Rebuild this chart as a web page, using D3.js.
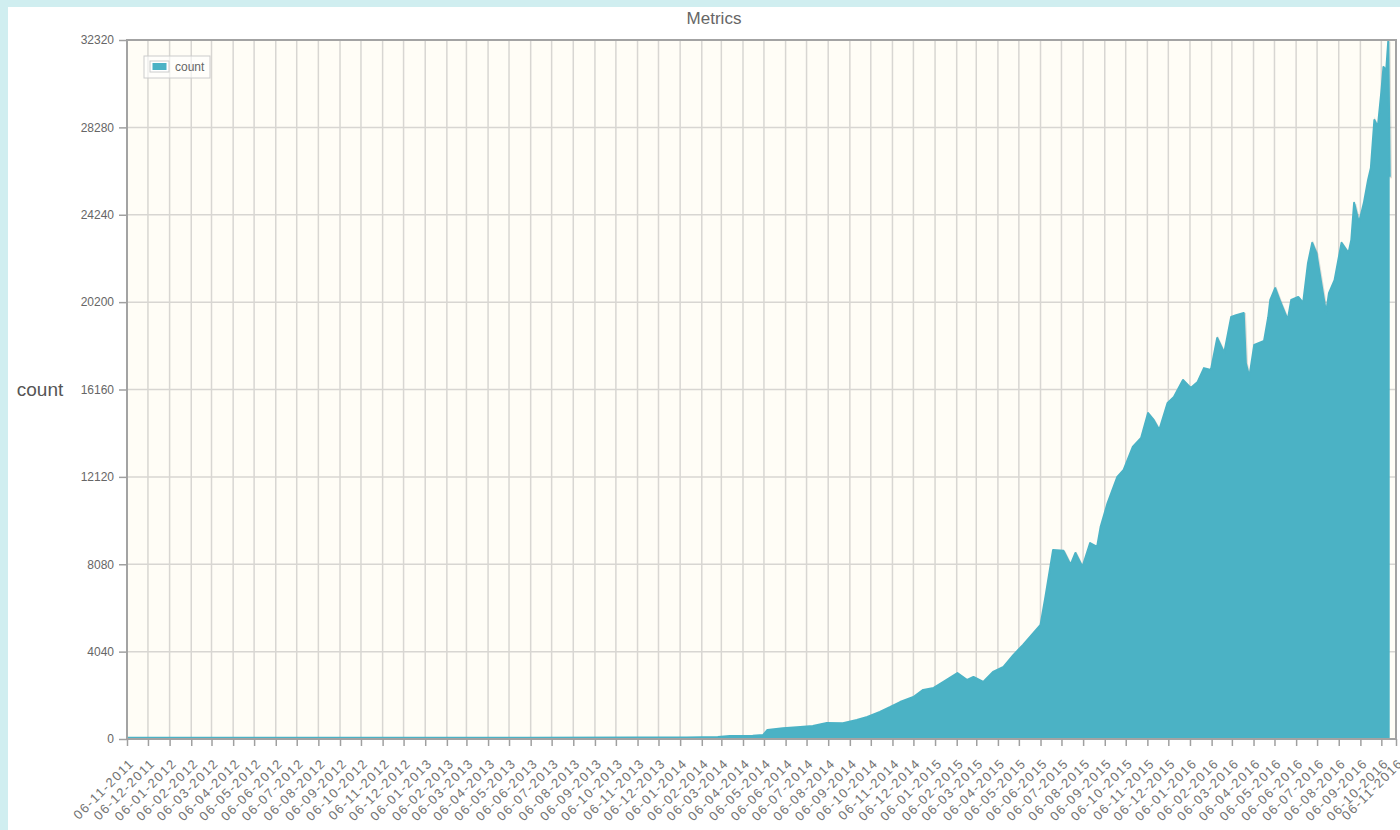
<!DOCTYPE html>
<html>
<head>
<meta charset="utf-8">
<title>Metrics</title>
<script src="https://cdn.jsdelivr.net/npm/d3@7"></script>
<style>
    html, body {
        margin: 0;
        padding: 0;
        background: #d0eef0;
        font-family: "Liberation Sans", Arial, sans-serif;
    }
    #chart-wrapper {
        position: absolute;
        left: 8px;
        top: 7px;
        width: 1392px;
        height: 823px;
        background: #fff;
    }
</style>
</head>
<body>
<div id="chart-wrapper"></div>
<script>
// readings of the count series (date, value)
let dates = [
    "2011-11-06", "2012-03-01", "2012-08-01", "2013-01-01", "2013-06-01", "2013-11-01",
    "2014-01-15", "2014-03-01", "2014-03-18", "2014-04-20", "2014-05-05", "2014-05-11",
    "2014-06-02", "2014-06-27", "2014-07-15", "2014-08-04", "2014-08-27", "2014-09-16",
    "2014-10-01", "2014-10-19", "2014-11-03", "2014-11-17", "2014-12-06", "2014-12-20",
    "2015-01-04", "2015-01-18", "2015-02-07", "2015-02-21", "2015-03-02", "2015-03-16",
    "2015-03-30", "2015-04-14", "2015-04-28", "2015-05-12", "2015-05-27", "2015-06-06",
    "2015-06-13", "2015-06-20", "2015-06-24", "2015-07-09", "2015-07-19", "2015-07-26",
    "2015-08-05", "2015-08-16", "2015-08-26", "2015-08-31", "2015-09-10", "2015-09-24",
    "2015-10-03", "2015-10-16", "2015-10-28", "2015-11-07", "2015-11-15", "2015-11-23",
    "2015-12-05", "2015-12-14", "2015-12-27", "2016-01-07", "2016-01-17", "2016-01-26",
    "2016-02-05", "2016-02-14", "2016-02-24", "2016-03-05", "2016-03-12", "2016-03-23",
    "2016-03-26", "2016-03-31", "2016-04-07", "2016-04-21", "2016-04-27", "2016-04-30",
    "2016-05-07", "2016-05-15", "2016-05-25", "2016-05-30", "2016-06-09", "2016-06-16",
    "2016-06-23", "2016-06-29", "2016-07-05", "2016-07-12", "2016-07-19", "2016-07-23",
    "2016-07-31", "2016-08-10", "2016-08-20", "2016-08-24", "2016-08-28", "2016-09-04",
    "2016-09-11", "2016-09-17", "2016-09-21", "2016-09-26", "2016-10-01", "2016-10-06",
    "2016-10-09", "2016-10-13", "2016-10-16", "2016-10-18"
];

let counts = [
    55, 60, 60, 60, 62, 65,
    70, 90, 140, 150, 185, 420,
    500, 555, 600, 740, 730, 880,
    1020, 1250, 1480, 1710, 1940, 2270,
    2360, 2640, 3050, 2730, 2870, 2640,
    3100, 3330, 3880, 4350, 4900, 5270,
    6570, 7950, 8740, 8700, 8050, 8600,
    7950, 9060, 8880, 9800, 10910, 12120,
    12440, 13500, 13920, 15070, 14750, 14290,
    15540, 15810, 16600, 16230, 16510, 17150,
    17060, 18540, 17850, 19510, 19600, 19700,
    17380, 16740, 18220, 18400, 19500, 20300,
    20850, 20160, 19380, 20300, 20440, 20160,
    22010, 22940, 22470, 21080, 19700, 20620,
    21220, 22940, 22470, 23070, 24790, 23860,
    24790, 25850, 26400, 28620, 28300, 29920,
    31070, 30930, 32320, 26000
];

let yTicks = [0, 4040, 8080, 12120, 16160, 20200, 24240, 28280, 32320];
let xDomain = ["2011-11-06", "2016-10-27"];
let firstTick = "2011-11-06",
    monthTicks = 61;

let seriesName = "count",
    chartTitle = "Metrics";

let parseDate = d3.timeParse("%Y-%m-%d"),
    fmtTick = d3.timeFormat("%d-%m-%Y");

let o = initSvg("#chart-wrapper", 1392, 823);
drawChart(o);

function initSvg(selector, width, height) {
    let obj = {};
    let svg = d3.select(selector).append("svg")
            .attr("width", width)
            .attr("height", height),
        margin = {top: 33, right: 4, bottom: 91, left: 119};

    obj.root = svg;
    obj.svg = svg.append("g").attr("transform", "translate(" + margin.left + "," + margin.top + ")");
    obj.width = width - margin.left - margin.right;
    obj.height = height - margin.top - margin.bottom;
    obj.margin = margin;

    obj.x = d3.scaleTime()
        .domain(xDomain.map(parseDate))
        .range([0, obj.width])
        .clamp(true);

    obj.y = d3.scaleLinear()
        .domain([0, yTicks[yTicks.length - 1]])
        .range([obj.height, 0]);

    return obj;
}

function drawChart(o) {
    let color = "#4bb2c5",
        gridColor = "#d8d6d2",
        textColor = "#666";

    let data = dates.map((d, i) => ({date: parseDate(d), count: counts[i]}));

    let start = parseDate(firstTick),
        xTickVals = d3.range(monthTicks).map(i => d3.timeMonth.offset(start, i));

    // title
    o.root.append("text")
        .attr("x", 706)
        .attr("y", 17)
        .attr("text-anchor", "middle")
        .style("font-size", "17px")
        .style("fill", textColor)
        .text(chartTitle);

    // y axis title
    o.root.append("text")
        .attr("x", 32)
        .attr("y", o.margin.top + o.height / 2 + 6)
        .attr("text-anchor", "middle")
        .style("font-size", "19px")
        .style("fill", "#555")
        .text(seriesName);

    // plot background
    o.svg.append("rect")
        .attr("width", o.width)
        .attr("height", o.height)
        .style("fill", "#fffdf6");

    // grid
    o.svg.append("g")
        .selectAll("line.vgrid")
        .data(xTickVals)
        .enter().append("line")
        .attr("class", "vgrid")
        .attr("x1", d => o.x(d))
        .attr("x2", d => o.x(d))
        .attr("y1", 0)
        .attr("y2", o.height)
        .style("stroke", gridColor)
        .style("stroke-width", "1.5px");

    o.svg.append("g")
        .selectAll("line.hgrid")
        .data(yTicks)
        .enter().append("line")
        .attr("class", "hgrid")
        .attr("x1", 0)
        .attr("x2", o.width)
        .attr("y1", d => o.y(d))
        .attr("y2", d => o.y(d))
        .style("stroke", gridColor)
        .style("stroke-width", "1.5px");

    // series
    o.svg.append("clipPath").attr("id", "plot-clip")
        .append("rect")
        .attr("width", o.width)
        .attr("height", o.height);

    let area = d3.area()
        .x(d => o.x(d.date))
        .y0(o.y(0))
        .y1(d => o.y(d.count));

    let line = d3.line()
        .x(d => o.x(d.date))
        .y(d => o.y(d.count));

    let series = o.svg.append("g").attr("clip-path", "url(#plot-clip)");

    series.append("path")
        .datum(data)
        .attr("d", line)
        .attr("transform", "translate(1,1.5)")
        .style("fill", "none")
        .style("stroke", "rgba(0,0,0,0.12)")
        .style("stroke-width", "2.5px");

    series.append("path")
        .datum(data)
        .attr("d", area)
        .style("fill", color);

    series.append("path")
        .datum(data)
        .attr("d", line)
        .style("fill", "none")
        .style("stroke", color)
        .style("stroke-width", "2px")
        .style("stroke-linejoin", "round");

    // border
    o.svg.append("rect")
        .attr("width", o.width)
        .attr("height", o.height)
        .style("fill", "none")
        .style("stroke", "#a3a3a3")
        .style("stroke-width", "2px");

    // axes
    let yAxis = d3.axisLeft(o.y)
        .tickValues(yTicks)
        .tickSize(8)
        .tickPadding(5)
        .tickFormat(d3.format("d"));

    let gy = o.svg.append("g")
        .call(yAxis);

    let xAxis = d3.axisBottom(o.x)
        .tickValues(xTickVals)
        .tickSize(7)
        .tickFormat(fmtTick);

    let gx = o.svg.append("g")
        .attr("transform", "translate(0," + o.height + ")")
        .call(xAxis);

    [gx, gy].forEach(g => {
        g.select(".domain").remove();
        g.selectAll(".tick line").style("stroke", "#a0a0a0").style("stroke-width", "1.5px");
        g.selectAll("text")
            .style("font-family", "'Liberation Sans', Arial, sans-serif")
            .style("font-size", "12px")
            .style("fill", textColor);
    });

    gx.selectAll(".tick text")
        .style("font-size", "13px")
        .style("letter-spacing", "1.5px")
        .style("fill", "#737373")
        .attr("text-anchor", "end")
        .attr("dy", 0)
        .attr("y", 0)
        .attr("x", 0)
        .attr("transform", "translate(7.5,25) rotate(-45)");

    // legend
    let lg = o.svg.append("g")
        .attr("transform", "translate(17,16)");

    lg.append("rect")
        .attr("width", 66)
        .attr("height", 22)
        .style("fill", "#fff")
        .style("fill-opacity", 0.6)
        .style("stroke", "#ccc")
        .style("stroke-width", "1px");

    lg.append("rect")
        .attr("x", 6)
        .attr("y", 5)
        .attr("width", 19)
        .attr("height", 11)
        .style("fill", "#fff")
        .style("stroke", "#ccc");

    lg.append("rect")
        .attr("x", 8.5)
        .attr("y", 7)
        .attr("width", 14)
        .attr("height", 7)
        .style("fill", color);

    lg.append("text")
        .attr("x", 31)
        .attr("y", 15)
        .style("font-size", "12px")
        .style("fill", textColor)
        .text(seriesName);
}
</script>
</body>
</html>
